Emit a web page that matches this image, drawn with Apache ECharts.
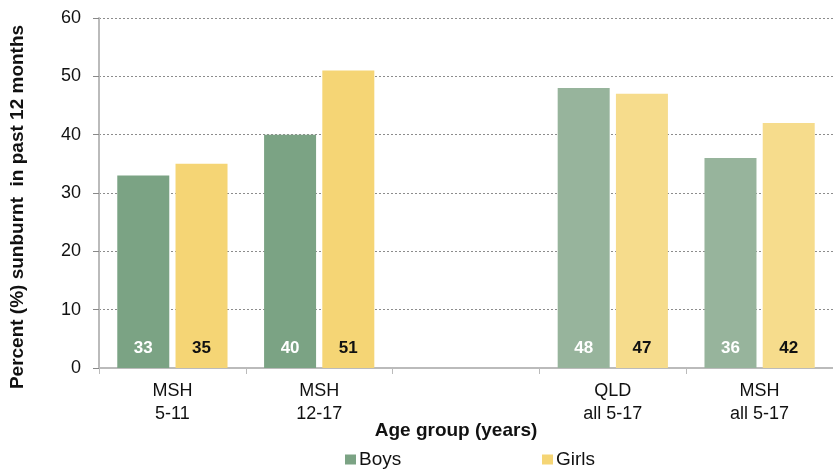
<!DOCTYPE html>
<html>
<head>
<meta charset="utf-8">
<script src="https://cdn.jsdelivr.net/npm/echarts@6/dist/echarts.min.js"></script>
<style>
  html, body { margin: 0; padding: 0; background: #fff; }
  #chart { width: 833px; height: 473px; }
</style>
</head>
<body>
<div id="chart"></div>
<script>
// Sunburn in the past 12 months, by age group and sex
const categories = ['MSH\n5-11', 'MSH\n12-17', '', 'QLD\nall 5-17', 'MSH\nall 5-17'];
const boys  = [33, 40, null, 48, 36];
const girls = [35, 51, null, 47, 42];
const yTicks = [0, 10, 20, 30, 40, 50, 60];

// The "all 5-17" groups are drawn in lighter shades
const boysColors  = ['#7BA384', '#7BA384', '#7BA384', '#97B49C', '#97B49C'];
const girlsColors = ['#F5D575', '#F5D575', '#F5D575', '#F6DC8C', '#F6DC8C'];

const FONT = '"Liberation Sans", Arial, sans-serif';

function styled(values, colors) {
  return values.map((v, i) => ({ value: v, itemStyle: { color: colors[i] } }));
}

const chart = echarts.init(document.getElementById('chart'), null, { renderer: 'canvas' });

chart.setOption({
  animation: false,
  textStyle: { fontFamily: FONT },
  grid: { left: 99, right: 0, top: 18, bottom: 105 },
  legend: [
    {
      data: ['Boys'], left: 345, top: 450, padding: 0, itemWidth: 11, itemHeight: 10, itemGap: 4,
      icon: 'rect',
      textStyle: { fontFamily: FONT, fontSize: 19, color: '#111', padding: [0, 0, 0, -2] }
    },
    {
      data: ['Girls'], left: 542, top: 450, padding: 0, itemWidth: 11, itemHeight: 10, itemGap: 4,
      icon: 'rect',
      textStyle: { fontFamily: FONT, fontSize: 19, color: '#111', padding: [0, 0, 0, -2] }
    }
  ],
  xAxis: {
    type: 'category',
    data: categories,
    name: 'Age group (years)',
    nameLocation: 'middle',
    nameGap: 53,
    nameMoveOverlap: false,
    nameTextStyle: { fontFamily: FONT, fontSize: 19, fontWeight: 'bold', color: '#111', padding: [0, 20, 0, 0] },
    axisLine: { lineStyle: { color: '#BBBBBB', width: 2 } },
    axisTick: { show: true, alignWithLabel: false, length: 6, lineStyle: { color: '#BBBBBB', width: 1 } },
    axisLabel: { fontFamily: FONT, fontSize: 18, color: '#111', lineHeight: 23.5, margin: 11, interval: 0 }
  },
  yAxis: {
    type: 'value',
    min: 0, max: 60, interval: 10,
    name: 'Percent (%) sunburnt  in past 12 months',
    nameLocation: 'middle',
    nameGap: 72,
    nameMoveOverlap: false,
    nameRotate: 90,
    nameTextStyle: { fontFamily: FONT, fontSize: 19, fontWeight: 'bold', color: '#111', padding: [0, 0, 0, -28] },
    axisLine: { show: true, lineStyle: { color: '#BBBBBB', width: 2 } },
    axisTick: { show: true, length: 6, lineStyle: { color: '#888' } },
    axisLabel: {
      fontFamily: FONT, fontSize: 18, color: '#111', margin: 18,
      formatter: v => (yTicks.includes(v) ? String(v) : '')
    },
    splitLine: { lineStyle: { color: '#8C8C8C', type: [2, 2], width: 1 } }
  },
  series: [
    {
      name: 'Boys', type: 'bar',
      data: styled(boys, boysColors),
      itemStyle: { color: '#7BA384' },
      barWidth: 52, barGap: '12%',
      label: {
        show: true, position: 'insideBottom', distance: 11,
        color: '#fff', fontFamily: FONT, fontSize: 17, fontWeight: 'bold',
        formatter: p => String(p.value)
      }
    },
    {
      name: 'Girls', type: 'bar',
      data: styled(girls, girlsColors),
      itemStyle: { color: '#F5D575' },
      barWidth: 52,
      label: {
        show: true, position: 'insideBottom', distance: 11,
        color: '#111', fontFamily: FONT, fontSize: 17, fontWeight: 'bold',
        formatter: p => String(p.value)
      }
    }
  ]
});
</script>
</body>
</html>
